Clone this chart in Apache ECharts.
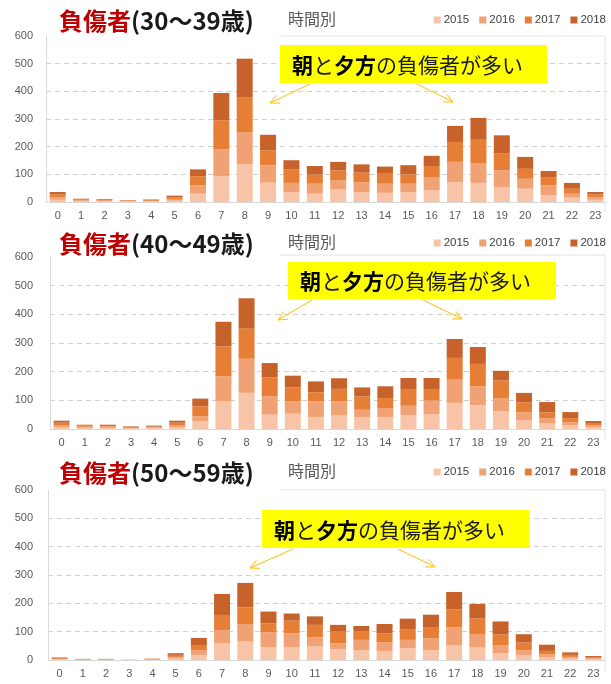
<!DOCTYPE html>
<html>
<head>
<meta charset="utf-8">
<script src="https://cdn.jsdelivr.net/npm/echarts@6/dist/echarts.min.js"></script>
<style>
  html, body { margin: 0; padding: 0; background: #ffffff; }
  #chart { width: 611px; height: 684px; }
</style>
</head>
<body>
<div id="chart"></div>
<script>
// Hours of the day (x axis)
const hours = ['0','1','2','3','4','5','6','7','8','9','10','11','12','13','14','15','16','17','18','19','20','21','22','23'];
const years = ['2015', '2016', '2017', '2018'];
const yearColors = ['#F8C4A8', '#F1A275', '#E67F35', '#C6622A'];

// Injured persons aged 30–39, by hour
const age30_2015 = [8,3,2,2,2,5,30,93,136,70,36,30,45,36,33,36,42,72,69,54,48,24,16,8];
const age30_2016 = [9,3,3,2,2,6,30,97,115,63,33,36,33,36,33,30,46,73,70,60,36,36,14,9];
const age30_2017 = [10,3,2,2,3,6,33,105,126,54,48,33,36,34,36,34,42,72,86,61,36,30,18,10];
const age30_2018 = [9,3,3,1,2,6,25,99,141,56,34,31,31,30,26,33,37,58,79,66,43,22,21,9];

// Injured persons aged 40–49, by hour
const age40_2015 = [7,4,4,2,3,7,27,97,126,50,53,42,47,42,42,48,52,91,83,62,30,21,12,6];
const age40_2016 = [7,4,4,2,3,7,17,87,119,64,44,55,50,25,31,33,47,81,66,46,28,17,11,7];
const age40_2017 = [8,4,3,3,3,8,35,104,105,66,48,31,43,47,35,56,38,76,78,61,35,20,15,8];
const age40_2018 = [7,3,4,2,3,7,27,86,106,50,41,38,37,31,41,41,41,66,59,34,33,36,21,7];

// Injured persons aged 50–59, by hour
const age50_2015 = [2,1,1,0,1,5,18,59,65,45,46,49,38,35,32,41,34,51,44,24,18,9,5,3];
const age50_2016 = [2,1,1,0,1,6,17,45,62,53,48,31,21,36,30,30,42,64,48,29,17,11,6,3];
const age50_2017 = [3,1,1,1,2,7,18,55,59,31,45,44,41,31,32,38,38,64,55,38,27,12,7,4];
const age50_2018 = [2,1,1,0,1,6,25,74,86,42,25,30,24,18,33,37,46,61,51,45,29,22,9,4];

// Y axis range
const yMin = 0, yMax = 600, yStep = 100;

const panels = [
  { label: '(30～39歳)', data: [age30_2015, age30_2016, age30_2017, age30_2018],
    grid: { left: 46, right: 4, top: 36, height: 166 }, labelMargin: 13, head: 20,
    box: { x: 280, y: 45, w: 267, h: 38 },
    arrows: [[310, 84, 270, 103], [417, 84, 453, 102]], frameTop: 36, frameBottom: 212, frameLeft: 280 },
  { label: '(40～49歳)', data: [age40_2015, age40_2016, age40_2017, age40_2018],
    grid: { left: 50, right: 6, top: 257, height: 172 }, labelMargin: 17, head: 243,
    box: { x: 288, y: 262, w: 268, h: 37 },
    arrows: [[312, 300, 278, 320], [423, 300, 462, 319]], frameTop: 255, frameBottom: 440, frameLeft: 280 },
  { label: '(50～59歳)', data: [age50_2015, age50_2016, age50_2017, age50_2018],
    grid: { left: 48, right: 6, top: 490, height: 170 }, labelMargin: 15, head: 472,
    box: { x: 262, y: 510, w: 267, h: 38 },
    arrows: [[293, 549, 250, 568], [398, 549, 435, 567]], frameTop: 490, frameBottom: 672, frameLeft: 280 }
];

const grids = [], xAxes = [], yAxes = [], series = [], titles = [], legends = [], graphics = [];
const arrowColor = '#FFC000';

function arrowGraphic(x1, y1, x2, y2) {
  const ang = Math.atan2(y2 - y1, x2 - x1);
  const len = 10, spread = 0.45;
  const a1 = ang + Math.PI - spread, a2 = ang + Math.PI + spread;
  return [
    { type: 'line', shape: { x1, y1, x2, y2 }, style: { stroke: arrowColor, lineWidth: 1 }, z: 100 },
    { type: 'polyline', shape: { points: [
        [x2 + len * Math.cos(a1), y2 + len * Math.sin(a1)], [x2, y2],
        [x2 + len * Math.cos(a2), y2 + len * Math.sin(a2)] ] },
      style: { stroke: arrowColor, lineWidth: 1, fill: null }, z: 100 }
  ];
}

panels.forEach((p, i) => {
  grids.push(p.grid);
  xAxes.push({
    type: 'category', gridIndex: i, data: hours,
    axisLine: { lineStyle: { color: '#D9D9D9' } },
    axisTick: { show: false },
    axisLabel: { color: '#595959', fontSize: 11, fontFamily: 'Liberation Sans', margin: 8, interval: 0 }
  });
  yAxes.push({
    type: 'value', gridIndex: i, min: yMin, max: yMax, interval: yStep,
    axisLine: { show: true, lineStyle: { color: '#D9D9D9' } },
    axisTick: { show: false },
    axisLabel: { color: '#595959', fontSize: 11, fontFamily: 'Liberation Sans', margin: p.labelMargin },
    splitLine: { show: true, lineStyle: { type: [5, 4], width: 1,
      color: ['#D9D9D9', '#D0D0D0', '#D0D0D0', '#D0D0D0', '#D0D0D0', '#D0D0D0', 'rgba(0,0,0,0)'] } }
  });
  p.data.forEach((vals, k) => {
    series.push({
      name: years[k], type: 'bar', stack: 'p' + i, xAxisIndex: i, yAxisIndex: i,
      data: vals, barWidth: 16, itemStyle: { color: yearColors[k] }
    });
  });
  titles.push({
    text: '{r|負傷者}{k|' + p.label + '}',
    left: 54, top: p.head - 16,
    textStyle: { rich: {
      r: { color: '#C00000', fontSize: 24, fontWeight: 'bold', fontFamily: 'Noto Sans CJK JP' },
      k: { color: '#1A1A1A', fontSize: 24, fontWeight: 'bold', fontFamily: 'Noto Sans CJK JP' }
    } }
  });
  titles.push({
    text: '時間別', left: 283, top: p.head - 14,
    textStyle: { color: '#595959', fontSize: 16, fontWeight: 'normal', fontFamily: 'Noto Sans CJK JP' }
  });
  legends.push({
    data: years, right: 0, top: p.head - 11, icon: 'rect', itemWidth: 7, itemHeight: 7,
    itemGap: 10, selectedMode: false,
    textStyle: { color: '#404040', fontSize: 11.5, fontFamily: 'Liberation Sans', padding: [0, 0, 0, -2] }
  });
  // Chart-area frame on the right side
  graphics.push({ type: 'polyline', shape: { points: [[p.frameLeft, p.frameTop], [605, p.frameTop], [605, p.frameBottom]] },
    style: { stroke: '#E3E3E3', lineWidth: 1, fill: null }, z: 1 });
  // Callout box
  graphics.push({ type: 'rect', shape: { x: p.box.x, y: p.box.y, width: p.box.w, height: p.box.h },
    style: { fill: '#FFFF00' }, z: 100 });
  graphics.push({ type: 'text', x: p.box.x + 12, y: p.box.y + p.box.h / 2 + 1, z: 101,
    style: { text: '{b|朝}{n|と}{b|夕方}{n|の負傷者が多い}', verticalAlign: 'middle',
      rich: {
        b: { fontSize: 21, fontWeight: 'bold', fill: '#000000', fontFamily: 'Noto Sans CJK JP' },
        n: { fontSize: 21, fontWeight: 'normal', fill: '#1A1A1A', fontFamily: 'Noto Sans CJK JP' }
      } } });
  p.arrows.forEach(a => graphics.push(...arrowGraphic(a[0], a[1], a[2], a[3])));
});

const chart = echarts.init(document.getElementById('chart'), null, { renderer: 'canvas' });
chart.setOption({
  animation: false,
  backgroundColor: '#FFFFFF',
  title: titles,
  legend: legends,
  grid: grids,
  xAxis: xAxes,
  yAxis: yAxes,
  series: series,
  graphic: graphics
});
</script>
</body>
</html>
